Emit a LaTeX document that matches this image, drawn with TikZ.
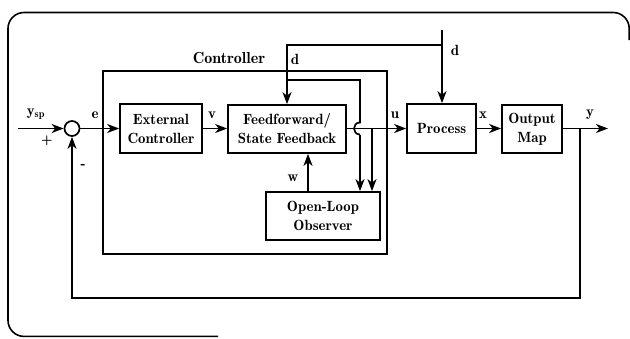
\documentclass[tikz,border=0pt]{standalone}
\usetikzlibrary{arrows.meta,calc}
\begin{document}
\begin{tikzpicture}[x=1pt,y=-1pt,
  txt/.style={font=\fontseries{b}\fontsize{14.8}{19}\selectfont},
  blk/.style={draw,line width=1.7pt,align=center,inner sep=0pt,txt},
  wire/.style={line width=1.7pt},
  sig/.style={wire,-{Stealth[length=12pt,width=9pt,inset=3.5pt]}},
  lab/.style={txt,inner sep=0pt}]
\useasboundingbox (0,0) rectangle (630,338);

% outer frame (open on the right and lower right)
\draw[line width=1.6pt,rounded corners=16] (629.2,40) |- (8,12.5) |- (218,336.4);

% controller enclosure
\draw[line width=2.6pt] (103,71) rectangle (387,254);
\node[lab,font=\fontseries{b}\fontsize{16}{19}\selectfont] (ctl) at (229,58) {Controller};

% blocks
\node[blk,minimum width=82pt,minimum height=49pt] (ext) at (161,128.5) {External\\Controller};
\node[blk,minimum width=118pt,minimum height=48pt] (ff) at (287,129) {Feedforward/\\State Feedback};
\node[blk,minimum width=114pt,minimum height=48pt] (obs) at (323,216) {Open-Loop\\Observer};
\node[blk,minimum width=69pt,minimum height=49pt] (proc) at (441.5,128.5) {Process};
\node[blk,minimum width=60pt,minimum height=48pt] (out) at (532,129) {Output\\Map};
\node[draw,circle,line width=1.7pt,minimum size=15pt,inner sep=0pt] (sum) at (72,128.5) {};

% junction points
\coordinate (ysp) at (18,128.5);
\coordinate (yend) at (608,128.5);
\coordinate (ytap) at (580,128.5);
\coordinate (fbr) at (580,298);
\coordinate (fbl) at (72,298);
\coordinate (dtop) at (442,30);
\coordinate (dsplit) at (442,45);
\coordinate (dff) at (287,45);
\coordinate (dobs) at (287,80);
\coordinate (hopx) at (360,80);
\coordinate (hopa) at (360,122.5);
\coordinate (hopb) at (360,134.5);
\coordinate (utap) at (372,128.5);

% forward path
\draw[sig] (ysp) -- (sum.west);
\draw[sig] (sum.east) -- (ext.west);
\draw[sig] (ext.east) -- (ff.west |- ext.east);
\draw[sig] (ff.east |- proc.west) -- (proc.west);
\draw[sig] (proc.east) -- (out.west |- proc.east);
\draw[sig] (out.east |- yend) -- (yend);

% output feedback to the summing junction
\draw[sig] (ytap) -- (fbr) -- (fbl) -- (sum.south);

% disturbance d
\draw[sig] (dtop) -- (proc.north -| dtop);
\draw[sig] (dsplit) -- (dff) -- (ff.north);
\draw[wire] (dobs) -- (hopx) -- (hopa)
  .. controls (352,122.5) and (352,134.5) .. (hopb);
\draw[sig] (hopb) -- (hopb |- obs.north);

% control signal u to the observer, observer state w back
\draw[sig] (utap) -- (utap |- obs.north);
\draw[sig] (obs.north -| 308,0) -- (ff.south -| 308,0);

% signal labels
\node[lab] (lysp) at (36,114) {y\textsubscript{sp}};
\node[lab] (lplus) at (47,141) {+};
\node[lab] (lminus) at (83,166) {-};
\node[lab] (le) at (95,115) {e};
\node[lab] (lv) at (212,115) {v};
\node[lab] (lw) at (293,178) {w};
\node[lab] (ld1) at (295,59) {d};
\node[lab] (ld2) at (455,50) {d};
\node[lab] (lu) at (395,115) {u};
\node[lab] (lx) at (483,115) {x};
\node[lab] (ly) at (590,115) {y};
\end{tikzpicture}
\end{document}
